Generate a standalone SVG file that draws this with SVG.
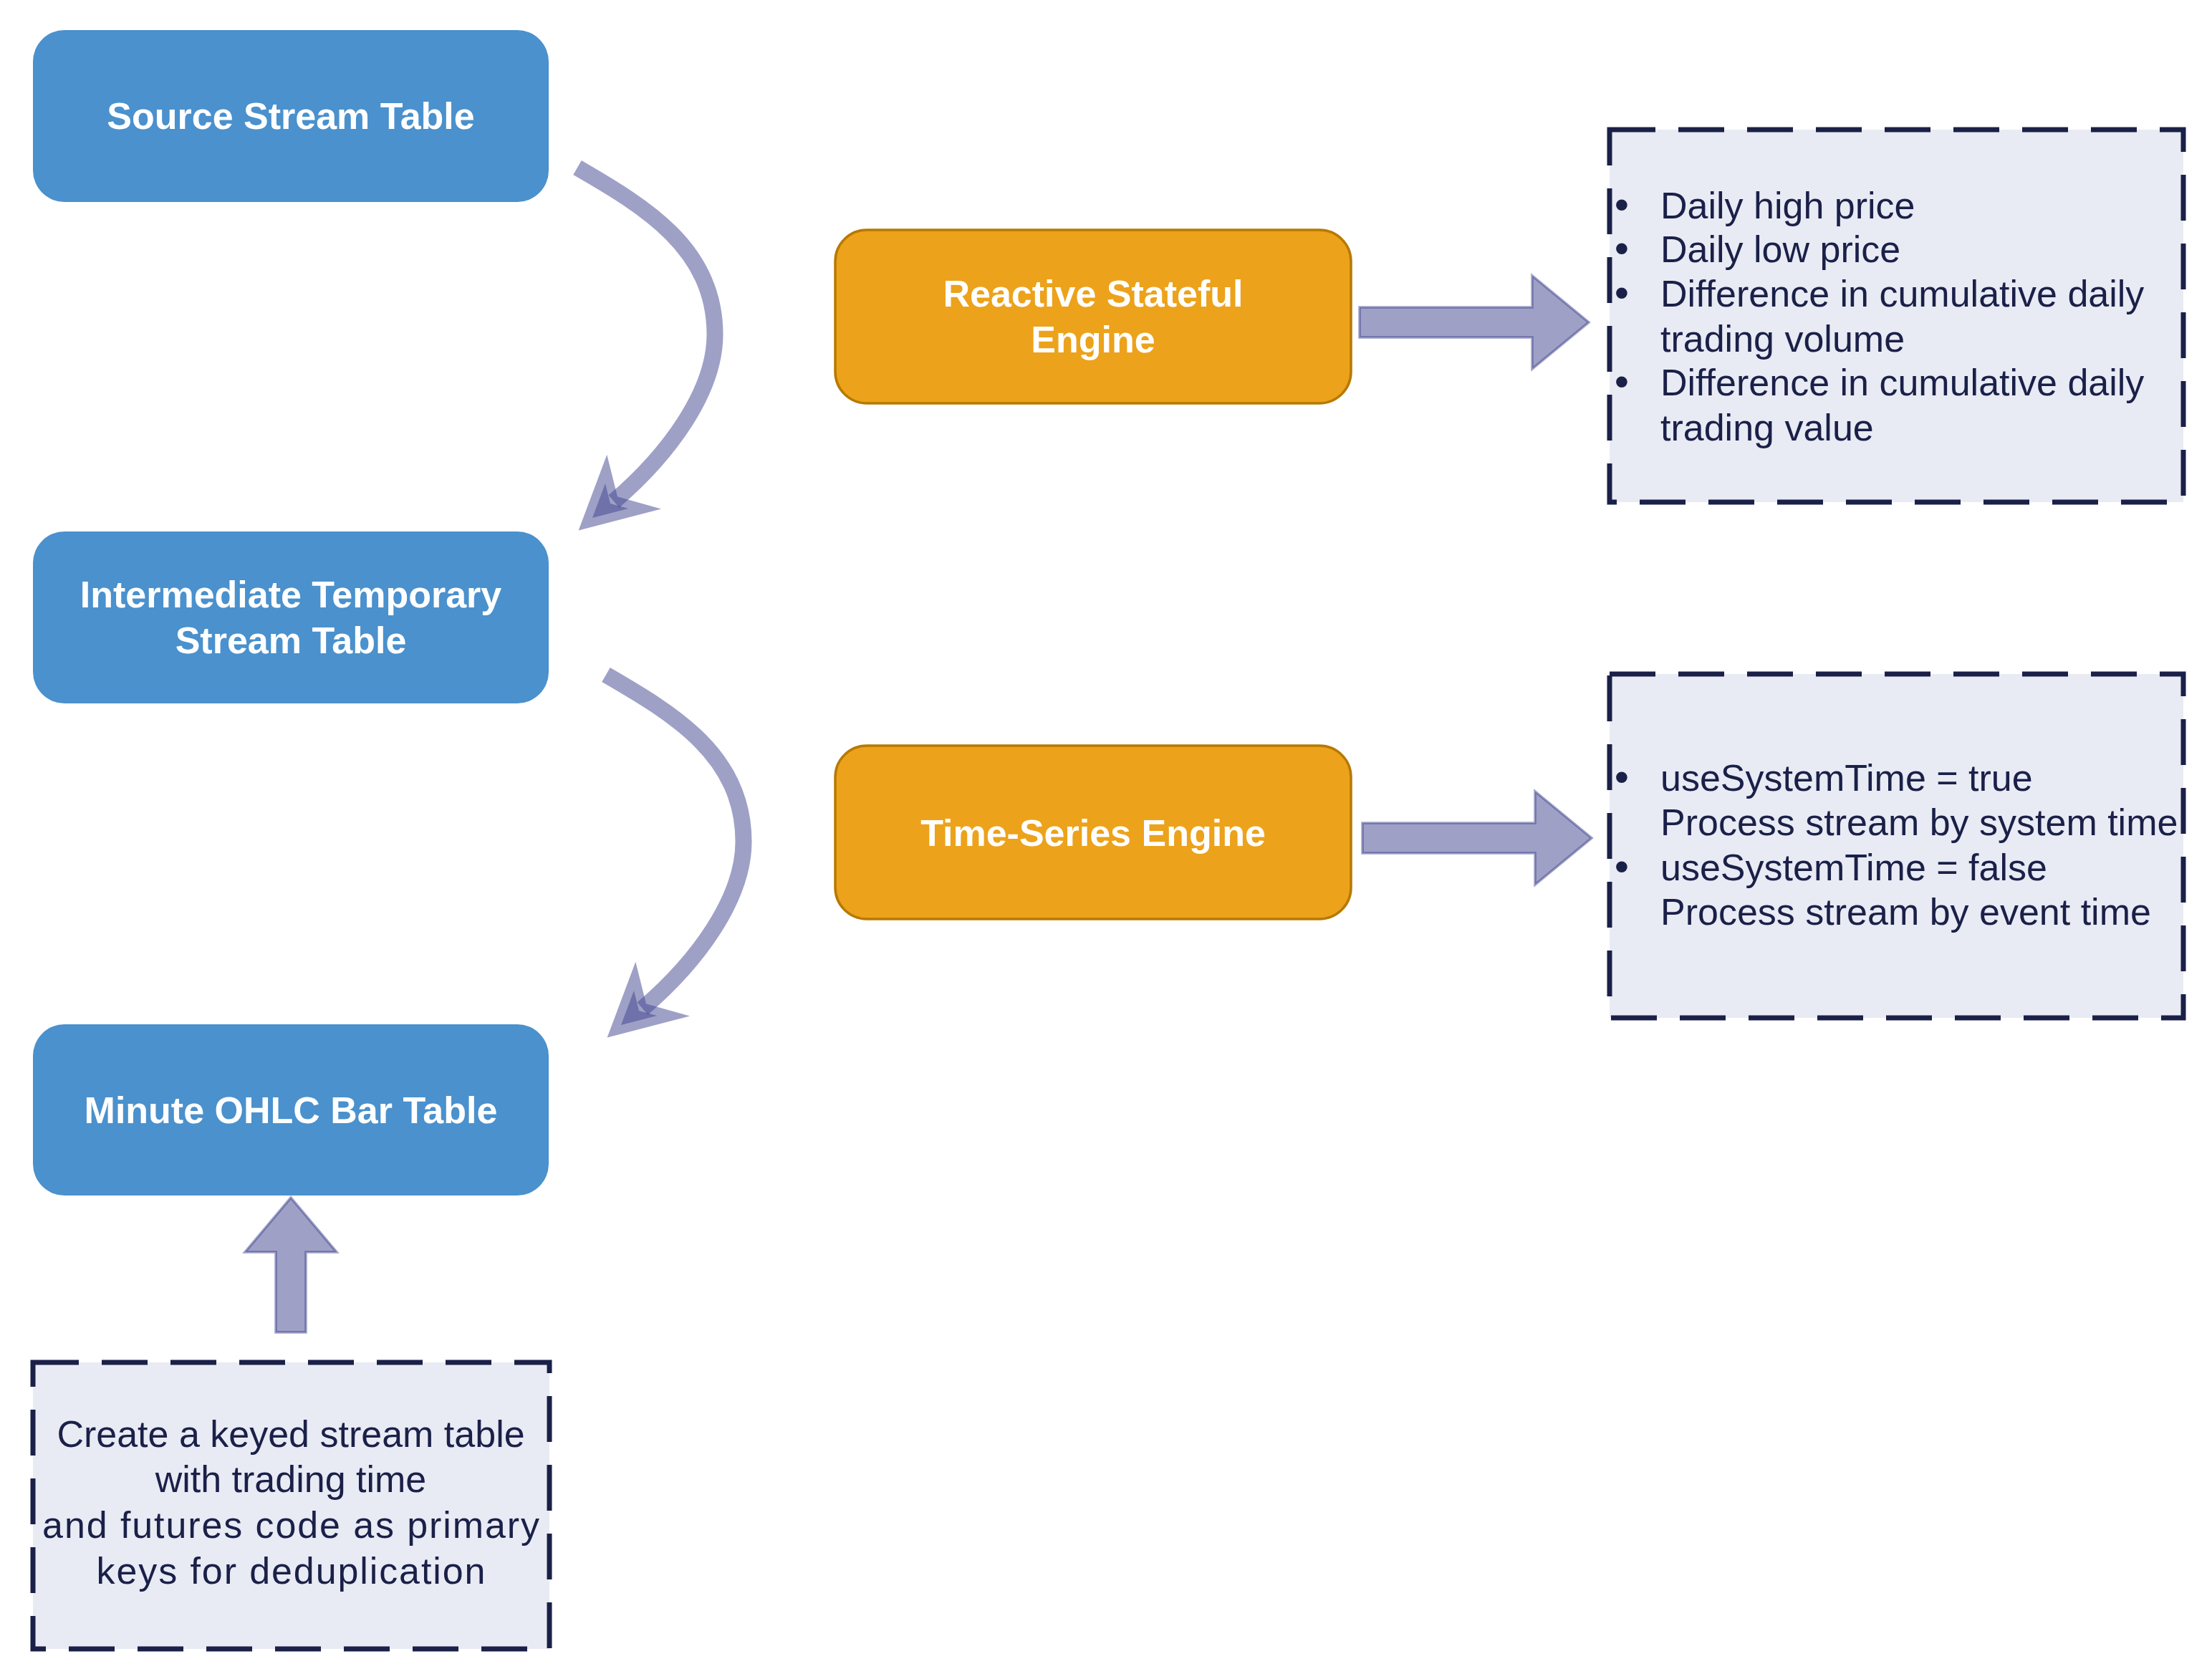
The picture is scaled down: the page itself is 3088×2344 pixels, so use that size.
<svg xmlns="http://www.w3.org/2000/svg" width="3088" height="2344" viewBox="0 0 3088 2344">
<style>
.blue{fill:#4a91cd}
.orange{fill:#eca21a;stroke:#b77900;stroke-width:3.5}
.note{fill:#e8ebf4;stroke:#1b2048;stroke-width:7;stroke-dasharray:64 32}
.title{font-family:"Liberation Sans",Arial,sans-serif;font-size:52px;font-weight:bold;fill:#ffffff;text-anchor:middle}
.body{font-family:"Liberation Sans",Arial,sans-serif;font-size:52px;fill:#1b2048}
.bullet{font-family:"Liberation Sans",Arial,sans-serif;font-size:58px;fill:#1b2048;text-anchor:middle}
.mid{text-anchor:middle}
.wide{letter-spacing:1.9px}
.curve{fill:none;stroke:#3d418d;stroke-opacity:0.5;stroke-width:23}
.head{fill:#3d418d;fill-opacity:0.5;stroke:#3d418d;stroke-opacity:0.5;stroke-width:24;stroke-linejoin:miter}
.block{fill:#3d418d;fill-opacity:0.5;stroke:#3d418d;stroke-opacity:0.5;stroke-width:3.5}
</style>
<rect width="3088" height="2344" fill="#ffffff"/>
<g id="connectors">
<g id="curve1">
<path class="curve" d="M806,234 C901,289 998,347 998,467 C998,547 933,635 857,700"/>
<polygon class="head" points="845,675 852,703 877,710 827,723"/>
</g>
<g id="curve2" transform="translate(40,708)">
<path class="curve" d="M806,234 C901,289 998,347 998,467 C998,547 933,635 857,700"/>
<polygon class="head" points="845,675 852,703 877,710 827,723"/>
</g>
<polygon id="arrow-reactive" class="block" points="1898,429 2139,429 2139,385 2218,450 2139,515 2139,471 1898,471"/>
<polygon id="arrow-timeseries" class="block" points="1902,1149 2143,1149 2143,1105 2222,1170 2143,1235 2143,1191 1902,1191"/>
<polygon id="arrow-up" class="block" points="385,1860 385,1748 342,1748 406,1672 470,1748 427,1748 427,1860"/>
</g>
<g id="source-stream-table">
<rect class="blue" x="46" y="42" width="720" height="240" rx="44" ry="44"/>
<text class="title" x="406" y="180">Source Stream Table</text>
</g>
<g id="intermediate-stream-table">
<rect class="blue" x="46" y="742" width="720" height="240" rx="44" ry="44"/>
<text class="title" x="406" y="848">Intermediate Temporary</text>
<text class="title" x="406" y="912">Stream Table</text>
</g>
<g id="minute-ohlc-table">
<rect class="blue" x="46" y="1430" width="720" height="239" rx="44" ry="44"/>
<text class="title" x="406" y="1568">Minute OHLC Bar Table</text>
</g>
<g id="reactive-stateful-engine">
<rect class="orange" x="1166" y="321" width="720" height="242" rx="44" ry="44"/>
<text class="title" x="1526" y="428">Reactive Stateful</text>
<text class="title" x="1526" y="492">Engine</text>
</g>
<g id="time-series-engine">
<rect class="orange" x="1166" y="1041" width="720" height="242" rx="44" ry="44"/>
<text class="title" x="1526" y="1181">Time-Series Engine</text>
</g>
<g id="note-reactive">
<rect class="note" x="2247" y="181" width="801" height="520"/>
<text class="bullet" x="2264" y="305">•</text>
<text class="body" x="2318" y="305">Daily high price</text>
<text class="bullet" x="2264" y="366">•</text>
<text class="body" x="2318" y="366">Daily low price</text>
<text class="bullet" x="2264" y="428">•</text>
<text class="body" x="2318" y="428">Difference in cumulative daily</text>
<text class="body" x="2318" y="491">trading volume</text>
<text class="bullet" x="2264" y="552">•</text>
<text class="body" x="2318" y="552">Difference in cumulative daily</text>
<text class="body" x="2318" y="615">trading value</text>
</g>
<g id="note-timeseries">
<rect class="note" x="2247" y="941" width="801" height="480"/>
<text class="bullet" x="2264" y="1104">•</text>
<text class="body" x="2318" y="1104">useSystemTime = true</text>
<text class="body" x="2318" y="1166">Process stream by system time</text>
<text class="bullet" x="2264" y="1229">•</text>
<text class="body" x="2318" y="1229">useSystemTime = false</text>
<text class="body" x="2318" y="1291">Process stream by event time</text>
</g>
<g id="note-keyed">
<rect class="note" x="46" y="1902" width="721" height="400"/>
<text class="body mid" x="406" y="2020">Create a keyed stream table</text>
<text class="body mid" x="406" y="2083">with trading time</text>
<text class="body mid wide" x="407" y="2147">and futures code as primary</text>
<text class="body mid wide" x="407" y="2211">keys for deduplication</text>
</g>
</svg>
